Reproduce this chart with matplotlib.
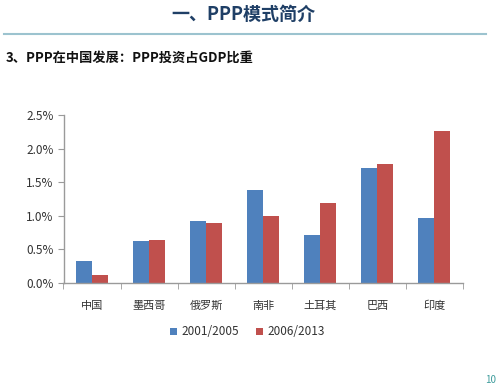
import matplotlib
matplotlib.use("Agg")
import matplotlib.pyplot as plt
import numpy as np
from matplotlib.lines import Line2D
from matplotlib.ticker import FuncFormatter

plt.rcParams["font.family"] = ["Noto Sans CJK SC", "DejaVu Sans"]

countries = ["中国", "墨西哥", "俄罗斯", "南非", "土耳其", "巴西", "印度"]
series_names = ["2001/2005", "2006/2013"]
share_2001_2005 = [0.33, 0.62, 0.92, 1.38, 0.71, 1.71, 0.96]
share_2006_2013 = [0.12, 0.64, 0.90, 0.99, 1.19, 1.77, 2.26]
y_ticks = [0.0, 0.5, 1.0, 1.5, 2.0, 2.5]

BLUE = "#4F81BD"
RED = "#C0504D"
AXIS_GRAY = "#9A9A9A"
LABEL = "#333333"

fig = plt.figure(figsize=(5.0, 3.91), dpi=100)
fig.patch.set_facecolor("white")

# header
fig.text(0.486, 0.962, "一、PPP模式简介", ha="center", va="center",
         fontsize=13, fontweight="bold", color="#1F3F66")
fig.add_artist(Line2D([0.008, 0.972], [0.913, 0.913], color="#9CC3CF", lw=1.5))
fig.text(0.012, 0.853, "3、PPP在中国发展：PPP投资占GDP比重", ha="left", va="center",
         fontsize=9.5, fontweight="bold", color="#111111")
fig.text(0.982, 0.028, "10", ha="center", va="center", fontsize=7, color="#3E9C9C")

ax = fig.add_axes([0.127, 0.2762, 0.799, 0.4298])
x = np.arange(len(countries))
w = 0.28
b1 = ax.bar(x - w / 2, share_2001_2005, w, color=BLUE, label=series_names[0])
b2 = ax.bar(x + w / 2, share_2006_2013, w, color=RED, label=series_names[1])

ax.set_xlim(-0.5, len(countries) - 0.5)
ax.set_ylim(0, 2.5)
ax.set_yticks(y_ticks)
ax.yaxis.set_major_formatter(FuncFormatter(lambda v, _: f"{v:.1f}%"))

ax.set_xticks(x)
ax.set_xticklabels(countries)
ax.set_xticks(np.arange(-0.5, len(countries)), minor=True)
ax.tick_params(axis="x", which="major", length=0, pad=13, labelsize=8, labelcolor=LABEL)
ax.tick_params(axis="x", which="minor", length=4, color=AXIS_GRAY, direction="out")
ax.tick_params(axis="y", length=4, color=AXIS_GRAY, labelsize=8.5, labelcolor=LABEL, pad=3)

for side in ("top", "right"):
    ax.spines[side].set_visible(False)
for side in ("left", "bottom"):
    ax.spines[side].set_color(AXIS_GRAY)
    ax.spines[side].set_linewidth(1.0)

fig.legend(handles=[b1, b2], labels=series_names, loc="center",
           bbox_to_anchor=(0.495, 0.151), ncol=2, frameon=False,
           fontsize=8.5, handlelength=0.6, handleheight=0.6,
           handletextpad=0.4, columnspacing=1.4, labelcolor=LABEL)

fig.savefig("out.png", dpi=100, facecolor="white")
